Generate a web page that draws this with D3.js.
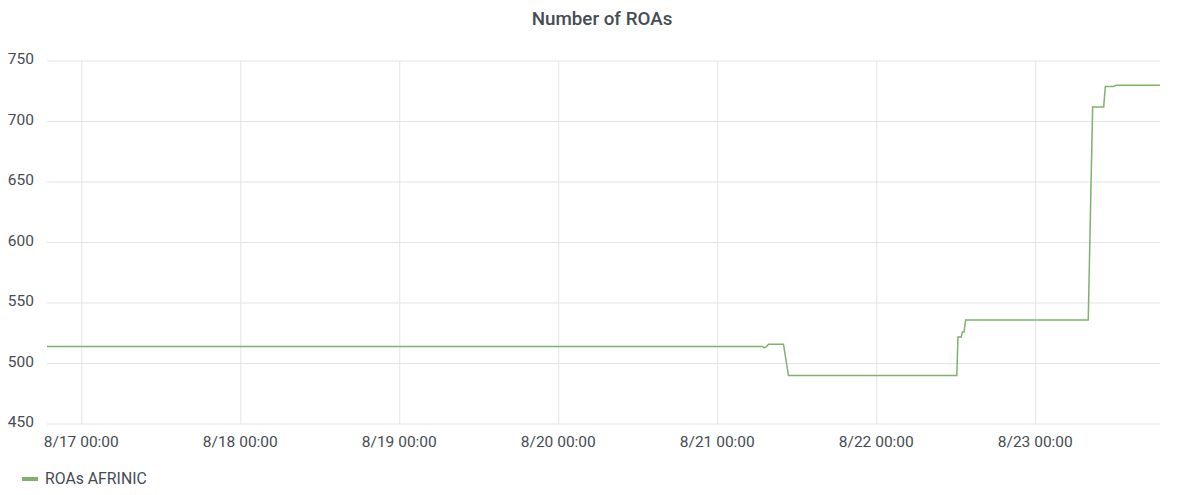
<!DOCTYPE html>
<html><head><meta charset="utf-8">
<script src="https://cdn.jsdelivr.net/npm/d3@7"></script>
<style>
body{margin:0;background:#fff;}
text{font-family:Roboto, "Noto Sans", sans-serif;}
</style></head>
<body><svg id="chart" width="1200" height="495"></svg>
<script>
const title = "Number of ROAs";
const seriesName = "ROAs AFRINIC";
const times = ["2023-08-16T18:45","2023-08-21T06:45","2023-08-21T07:00","2023-08-21T07:20","2023-08-21T07:40","2023-08-21T09:55","2023-08-21T10:40","2023-08-22T12:05","2023-08-22T12:15","2023-08-22T12:45","2023-08-22T12:55","2023-08-22T13:10","2023-08-22T13:25","2023-08-23T07:55","2023-08-23T08:35","2023-08-23T10:15","2023-08-23T10:30","2023-08-23T11:40","2023-08-23T12:10","2023-08-23T18:45"];
const values = [514,514,513,514,516,516,490,490,522,522,526,526,536,536,712,712,729,729,730,730];
const yTicks = [450,500,550,600,650,700,750];
const xTicks = ["2023-08-17T00:00","2023-08-18T00:00","2023-08-19T00:00","2023-08-20T00:00","2023-08-21T00:00","2023-08-22T00:00","2023-08-23T00:00"];
const xDomain = ["2023-08-16T18:45","2023-08-23T18:45"];

const parse = d3.timeParse("%Y-%m-%dT%H:%M");
const data = times.map((t,i)=>({t:parse(t), v:values[i]}));
const svg = d3.select("#chart");
const L=47, R=1160, T=61, B=424;
const x = d3.scaleTime().domain(xDomain.map(parse)).range([L,R]);
const y = d3.scaleLinear().domain([450,750]).range([B,T]);
const textCol = "#464c54";

// grid
svg.append("g").selectAll("line").data(yTicks).join("line")
  .attr("x1",L).attr("x2",R).attr("y1",d=>y(d)).attr("y2",d=>y(d))
  .attr("stroke","#e4e4e4").attr("stroke-width",1);
svg.append("g").selectAll("line").data(xTicks.map(parse)).join("line")
  .attr("x1",d=>x(d)).attr("x2",d=>x(d)).attr("y1",T).attr("y2",B)
  .attr("stroke","#e4e4e4").attr("stroke-width",1);

// axes labels via d3 axes
const yAxis = svg.append("g").attr("transform",`translate(${L-13},-2)`)
  .call(d3.axisLeft(y).tickValues(yTicks).tickSize(0).tickPadding(0));
yAxis.select(".domain").remove();
yAxis.selectAll("text").attr("fill",textCol).style("font-size","15.5px").style("font-family","Roboto");

const fmt = d3.timeFormat("%-m/%d %H:%M");
const xAxis = svg.append("g").attr("transform",`translate(-1,0)`)
  .call(d3.axisBottom(x).tickValues(xTicks.map(parse)).tickFormat(fmt).tickSize(0).tickPadding(0));
xAxis.select(".domain").remove();
xAxis.selectAll("text").attr("y",447).attr("dy",null).attr("fill",textCol).style("font-size","15.5px").style("font-family","Roboto");

// line
svg.append("path").datum(data)
  .attr("fill","none").attr("stroke","#7eb26d").attr("stroke-width",1.5)
  .attr("d", d3.line().x(d=>x(d.t)).y(d=>y(d.v)));

// title
svg.append("text").attr("x",602).attr("y",25).attr("text-anchor","middle")
  .attr("fill",textCol).style("font-size","18.8px").style("font-weight","500").text(title);

// legend
svg.append("rect").attr("x",22).attr("y",477).attr("width",16).attr("height",4).attr("fill","#7eb26d");
svg.append("text").attr("x",45).attr("y",484).attr("fill",textCol).style("font-size","15.8px").text(seriesName);
</script></body></html>
